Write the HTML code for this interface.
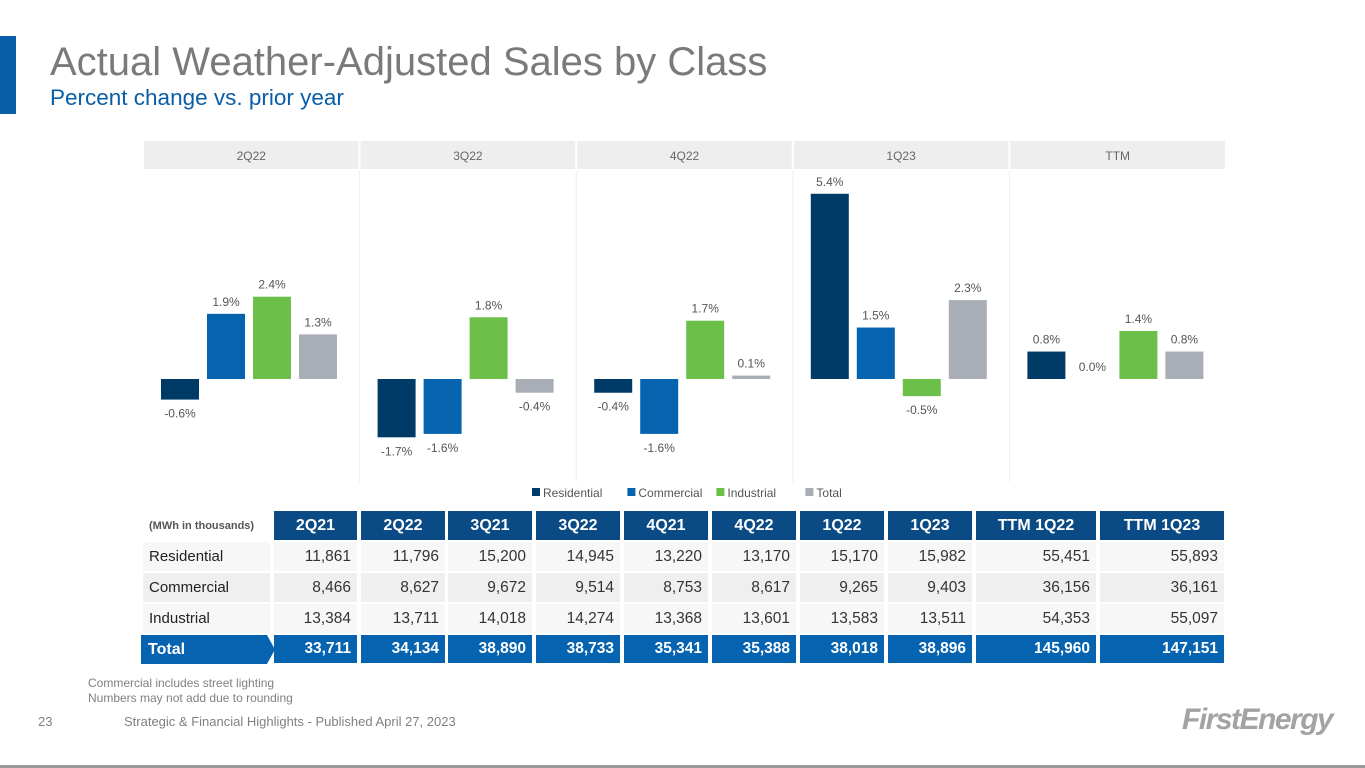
<!DOCTYPE html>
<html><head><meta charset="utf-8"><style>
body{margin:0;width:1365px;height:768px;position:relative;background:#fff;font-family:"Liberation Sans",sans-serif;overflow:hidden}
.abs{position:absolute}
.cell{position:absolute;box-sizing:border-box;font-size:15px;display:flex;align-items:center}
</style></head><body>
<div class="abs" style="left:0;top:36px;width:16px;height:78px;background:#0a5ea8"></div>
<div class="abs" style="left:50px;top:40px;font-size:40px;color:#7a7a7a">Actual Weather-Adjusted Sales by Class</div>
<div class="abs" style="left:50px;top:85px;font-size:22.5px;color:#0a5ea8">Percent change vs. prior year</div>
<svg class="abs" style="left:0;top:0" width="1365" height="510" id="chart"></svg>
<div id="tbl"></div>
<div class="abs" style="left:88px;top:676px;font-size:12px;color:#808080;line-height:15px">Commercial includes street lighting<br>Numbers may not add due to rounding</div>
<div class="abs" style="left:38px;top:714px;font-size:13px;color:#808080">23</div>
<div class="abs" style="left:124px;top:714px;font-size:13px;color:#808080">Strategic &amp; Financial Highlights - Published April 27, 2023</div>
<div class="abs" style="left:1182px;top:703px;font-size:30px;font-weight:bold;font-style:italic;color:#a3a3a3;letter-spacing:-1.5px">FirstEnergy</div>
<div class="abs" style="left:0;top:765px;width:1365px;height:3px;background:#999"></div>
<script>
const periods=["2Q22","3Q22","4Q22","1Q23","TTM"];
const seriesNames=["Residential","Commercial","Industrial","Total"];
const residential=[-0.6,-1.7,-0.4,5.4,0.8];
const commercial=[1.9,-1.6,-1.6,1.5,0.0];
const industrial=[2.4,1.8,1.7,-0.5,1.4];
const total=[1.3,-0.4,0.1,2.3,0.8];
const colors=["#003a66","#0563b0","#6cc04a","#a9adb5"];
const series=[residential,commercial,industrial,total];
const ns="http://www.w3.org/2000/svg";
const svg=document.getElementById('chart');
const zeroY=379,pxPer=34.3,panelX0=143,panelW=216.6;
const y=v=>zeroY-v*pxPer;
function mk(t,a,txt){const e=document.createElementNS(ns,t);for(const k in a)e.setAttribute(k,a[k]);if(txt!==undefined)e.textContent=txt;svg.appendChild(e);return e;}
periods.forEach((p,i)=>{
 const x0=panelX0+i*panelW;
 const h=mk('rect',{x:x0+1,y:141,width:panelW-2,height:28,fill:'#eeeeee'});
 
 
 const t=mk('text',{x:x0+panelW/2,y:160,'text-anchor':'middle','font-size':12,fill:'#666'},p);
 
 
 if(i>0){const l=mk('line',{x1:x0,x2:x0,y1:171,y2:482,stroke:'#eee'});
 
 }
 series.forEach((s,j)=>{
  const v=s[i];const bx=x0+18+j*46;
  const r=mk('rect',{x:bx,y:Math.min(y(v),zeroY),width:38,height:Math.abs(v)*pxPer,fill:colors[j]});
  
  
  const ly=v>=0?y(v)-8:y(v)+18;
  const lt=mk('text',{x:bx+19,y:ly,'text-anchor':'middle','font-size':12,fill:'#555'},v.toFixed(1)+'%');
  
  
 });
});
let lx=532;
seriesNames.forEach((n,j)=>{
 const r=mk('rect',{x:lx,y:488,width:8,height:8,fill:colors[j]});
 
 
 const t=mk('text',{x:lx+11,y:497,'font-size':12,fill:'#555'},n);
 
 
 lx+=11+n.length*6.4+14;
});
const cols=["2Q21","2Q22","3Q21","3Q22","4Q21","4Q22","1Q22","1Q23","TTM 1Q22","TTM 1Q23"];
const colX=[[274,357],[361,445],[448,532],[536,620],[624,708],[712,796],[800,884],[888,972],[976,1096],[1100,1224]];
const rows=[["Residential",["11,861","11,796","15,200","14,945","13,220","13,170","15,170","15,982","55,451","55,893"]],
["Commercial",["8,466","8,627","9,672","9,514","8,753","8,617","9,265","9,403","36,156","36,161"]],
["Industrial",["13,384","13,711","14,018","14,274","13,368","13,601","13,583","13,511","54,353","55,097"]],
["Total",["33,711","34,134","38,890","38,733","35,341","35,388","38,018","38,896","145,960","147,151"]]];
const tb=document.getElementById('tbl');
function cell(x,yy,w,h,txt,style,name){const d=document.createElement('div');d.className='cell';d.style.cssText=`left:${x}px;top:${yy}px;width:${w}px;height:${h}px;`+style;d.textContent=txt;tb.appendChild(d);return d;}
cell(143,511,128,29,"(MWh in thousands)","font-size:11px;font-weight:bold;color:#555;padding-left:6px","table-unit-label");
cols.forEach((c,i)=>cell(colX[i][0],511,colX[i][1]-colX[i][0],29,c,"background:#0a4a85;color:#fff;font-weight:bold;justify-content:center;font-size:16px","column-header"));
const rowY=[542,573,604,635];
const bgs=["#f7f7f7","#efefef","#f7f7f7"];
rows.forEach((r,ri)=>{
 const isT=ri===3;
 if(isT){cell(141,rowY[ri],134,29,r[0],"background:#0563b0;color:#fff;font-weight:bold;font-size:16px;padding-left:7px;clip-path:polygon(0 0,94% 0,100% 50%,94% 100%,0 100%)","row-label-total");}
 else cell(143,rowY[ri],127,29,r[0],`background:${bgs[ri]};color:#222;padding-left:6px`,"row-label");
 r[1].forEach((v,i)=>cell(colX[i][0],rowY[ri],colX[i][1]-colX[i][0],isT?28:29,v,(isT?"background:#0563b0;color:#fff;font-weight:bold;":`background:${bgs[ri]};color:#333;`)+"justify-content:flex-end;padding-right:6px;font-size:15.5px","table-value"));
});
</script>
</body></html>
